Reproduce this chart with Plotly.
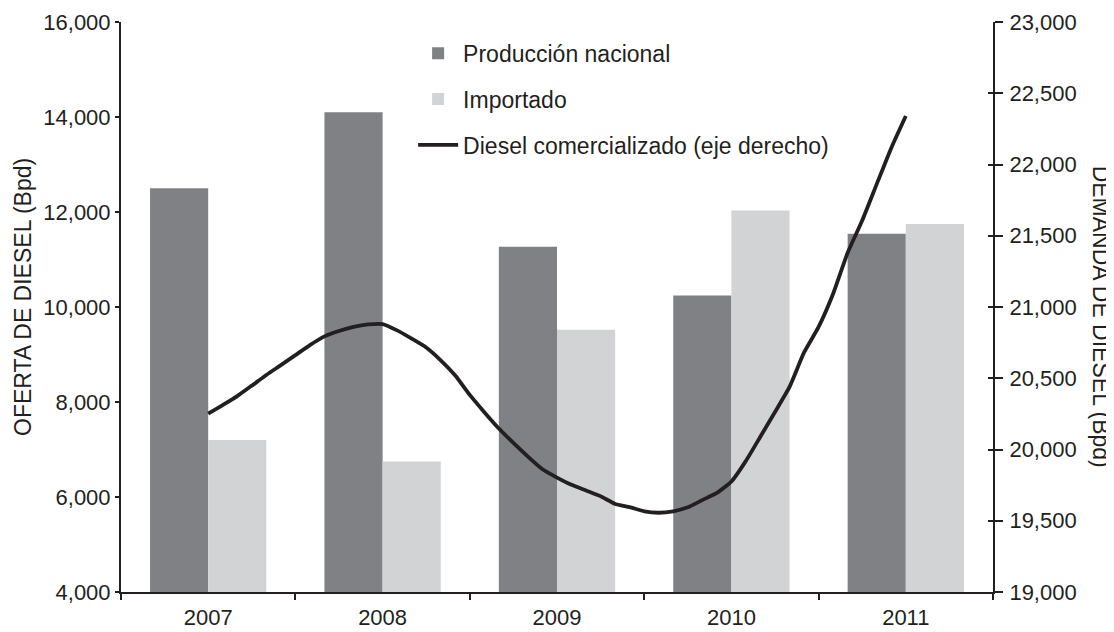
import plotly.graph_objects as go

years = ["2007", "2008", "2009", "2010", "2011"]
produccion = [12500, 14100, 11270, 10240, 11540]
importado = [7200, 6750, 9520, 12030, 11750]

# Monthly marketed diesel (right axis), Jan-2007 .. Jan-2011, placed on the year scale
diesel_month_index = list(range(49))
diesel = [20251, 20312, 20375, 20448, 20523, 20592, 20662, 20733, 20794, 20832,
          20861, 20878, 20880, 20836, 20778, 20716, 20626, 20519, 20383, 20262,
          20147, 20046, 19950, 19861, 19803, 19752, 19712, 19672, 19618, 19596,
          19566, 19556, 19566, 19594, 19645, 19695, 19775, 19920, 20091, 20263,
          20439, 20681, 20860, 21093, 21381, 21607, 21862, 22116, 22340]
diesel_x = [m / 12 for m in diesel_month_index]

left_ticks = [4000, 6000, 8000, 10000, 12000, 14000, 16000]
right_ticks = [19000, 19500, 20000, 20500, 21000, 21500, 22000, 22500, 23000]

INK = "#231f20"
DARK = "#808184"
LIGHT = "#d1d3d4"
FONT = "Liberation Sans, Arial, sans-serif"

fig = go.Figure()
fig.add_trace(go.Bar(x=years, y=produccion, name="Producción nacional",
                     marker=dict(color=DARK, line=dict(width=0)),
                     legendgroup="a", xaxis="x", yaxis="y"))
fig.add_trace(go.Bar(x=years, y=importado, name="Importado",
                     marker=dict(color=LIGHT, line=dict(width=0)),
                     legendgroup="b", xaxis="x", yaxis="y"))
fig.add_trace(go.Scatter(x=diesel_x, y=diesel, mode="lines",
                         name="Diesel comercializado (eje derecho)",
                         line=dict(color=INK, width=3.8, shape="spline", smoothing=0.5),
                         legendgroup="c", xaxis="x2", yaxis="y2"))
# invisible trace to activate the inner tick marks of the right axis
fig.add_trace(go.Scatter(x=[None], y=[None], yaxis="y3", showlegend=False, hoverinfo="skip"))

# the page body adds an 8px offset, so the figure is 8px smaller and margins compensate
fig.update_layout(
    width=1106, height=624,
    margin=dict(l=113, r=121, t=14, b=40, autoexpand=False),
    paper_bgcolor="white", plot_bgcolor="white",
    font=dict(family=FONT, size=22, color=INK),
    barmode="group", bargap=0.333, bargroupgap=0,
    showlegend=True,
    legend=dict(x=0.335, y=0.983, xanchor="left", yanchor="top",
                bgcolor="rgba(0,0,0,0)", font=dict(size=23, color=INK),
                tracegroupgap=13, itemwidth=40, traceorder="grouped"),
    xaxis=dict(type="category", range=[-0.5, 4.5], showgrid=False, automargin=False,
               showline=True, linecolor=INK, linewidth=2,
               ticks="outside", tickson="boundaries", ticklen=6, tickwidth=2,
               tickcolor=INK, tickfont=dict(size=22, color=INK), zeroline=False,
               ticklabelstandoff=5),
    xaxis2=dict(overlaying="x", range=[-0.5, 4.5], visible=False),
    yaxis=dict(range=[4000, 16000], tickvals=left_ticks, automargin=False,
               tickformat=",d", showgrid=False, zeroline=False,
               showline=True, linecolor=INK, linewidth=2,
               ticks="outside", ticklen=4, tickwidth=2, tickcolor=INK,
               tickfont=dict(size=22, color=INK)),
    yaxis2=dict(range=[19000, 23000], tickvals=right_ticks, tickformat=",d",
                overlaying="y", side="right", showgrid=False, zeroline=False,
                automargin=False, showline=True, linecolor=INK, linewidth=2,
                ticks="outside", ticklen=8, tickwidth=2, tickcolor=INK,
                tickfont=dict(size=22, color=INK), ticklabelstandoff=2),
    yaxis3=dict(range=[19000, 23000], tickvals=right_ticks, overlaying="y",
                side="right", showgrid=False, zeroline=False, showline=False,
                automargin=False, ticks="inside", ticklen=5, tickwidth=2,
                tickcolor=INK, showticklabels=False),
    annotations=[
        dict(text="OFERTA DE DIESEL (Bpd)", textangle=-90,
             xref="paper", yref="paper", x=-0.1124, y=0.5175,
             xanchor="center", yanchor="middle", showarrow=False,
             font=dict(size=23, color=INK, family=FONT)),
        dict(text="DEMANDA DE DIESEL (Bpd)", textangle=90,
             xref="paper", yref="paper", x=1.1239, y=0.483,
             xanchor="center", yanchor="middle", showarrow=False,
             font=dict(size=23, color=INK, family=FONT)),
    ],
)

fig.write_html("out.html")
